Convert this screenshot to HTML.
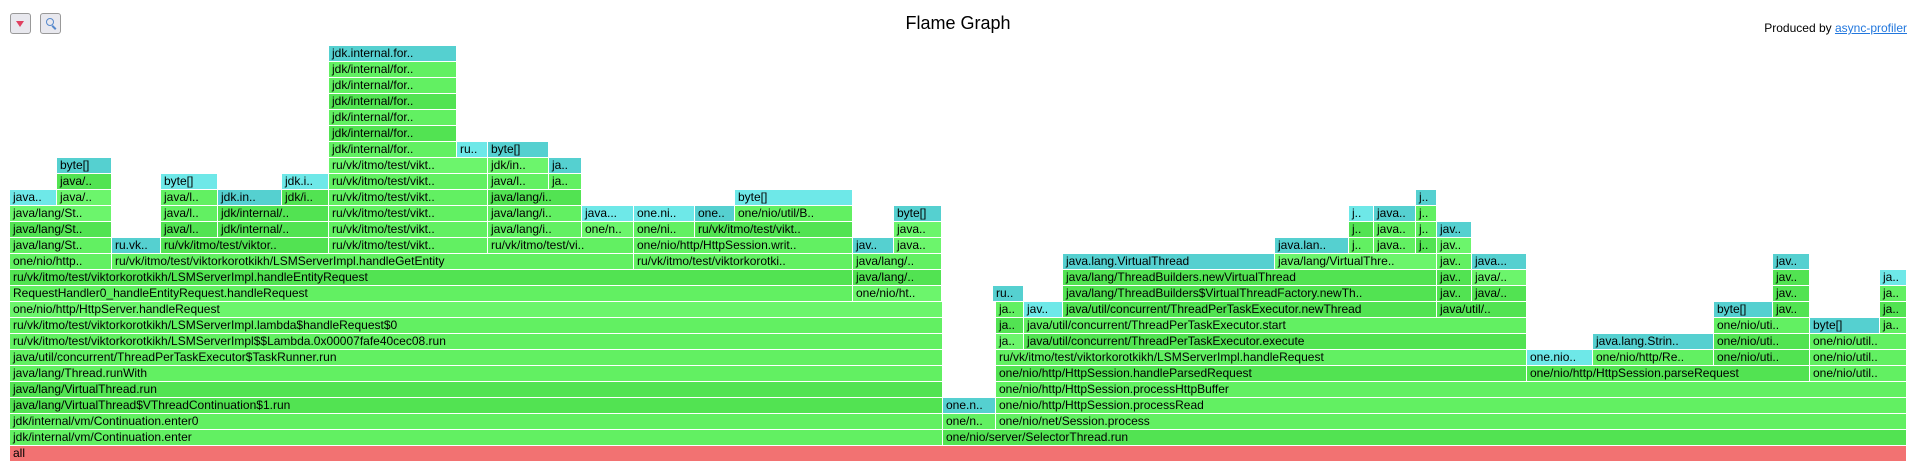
<!DOCTYPE html>
<html><head><meta charset="utf-8"><style>
body{margin:0;width:1916px;height:471px;background:#fff;position:relative;overflow:hidden;font-family:"Liberation Sans","DejaVu Sans",sans-serif;}
.f{position:absolute;height:15px;font-size:12px;line-height:15px;padding-left:3px;box-sizing:border-box;white-space:nowrap;overflow:hidden;color:#000;}
.a{background:#62f062}.b{background:#52e352}.c{background:#6cf56c}
.k{background:#55d0d0}.l{background:#6ee8e8}.r{background:#f27272}
.btn{position:absolute;top:13px;width:21px;height:21px;border:1px solid #999;border-radius:3px;background:#e8e8ee;box-sizing:border-box;}
</style></head><body>
<div class="btn" style="left:10px"><div style="position:absolute;left:5px;top:7px;width:0;height:0;border-left:4px solid transparent;border-right:4px solid transparent;border-top:6px solid #e04060"></div></div>
<div class="btn" style="left:40px"><div style="position:absolute;left:5px;top:4px;width:6px;height:6px;border:1.5px solid #5588cc;border-radius:50%"></div><div style="position:absolute;left:12px;top:11px;width:2px;height:5px;background:#5588cc;transform:rotate(-45deg)"></div></div>
<div style="position:absolute;left:0;width:1916px;top:13px;text-align:center;font-size:18px;">Flame Graph</div>
<div style="position:absolute;right:9px;top:21px;font-size:12px;">Produced by <span style="color:#2277dd;text-decoration:underline">async-profiler</span></div>

<!-- L0 -->
<div class="f r" style="left:10px;top:446px;width:1896px">all</div>
<!-- L1 -->
<div class="f a" style="left:10px;top:430px;width:932px">jdk/internal/vm/Continuation.enter</div>
<div class="f b" style="left:943px;top:430px;width:963px">one/nio/server/SelectorThread.run</div>
<!-- L2 -->
<div class="f a" style="left:10px;top:414px;width:932px">jdk/internal/vm/Continuation.enter0</div>
<div class="f a" style="left:943px;top:414px;width:52px">one/n..</div>
<div class="f a" style="left:996px;top:414px;width:910px">one/nio/net/Session.process</div>
<!-- L3 -->
<div class="f b" style="left:10px;top:398px;width:932px">java/lang/VirtualThread$VThreadContinuation$1.run</div>
<div class="f k" style="left:943px;top:398px;width:52px">one.n..</div>
<div class="f a" style="left:996px;top:398px;width:910px">one/nio/http/HttpSession.processRead</div>
<!-- L4 -->
<div class="f b" style="left:10px;top:382px;width:932px">java/lang/VirtualThread.run</div>
<div class="f a" style="left:996px;top:382px;width:910px">one/nio/http/HttpSession.processHttpBuffer</div>
<!-- L5 -->
<div class="f a" style="left:10px;top:366px;width:932px">java/lang/Thread.runWith</div>
<div class="f b" style="left:996px;top:366px;width:530px">one/nio/http/HttpSession.handleParsedRequest</div>
<div class="f b" style="left:1527px;top:366px;width:282px">one/nio/http/HttpSession.parseRequest</div>
<div class="f a" style="left:1810px;top:366px;width:96px">one/nio/util..</div>
<!-- L6 -->
<div class="f a" style="left:10px;top:350px;width:932px">java/util/concurrent/ThreadPerTaskExecutor$TaskRunner.run</div>
<div class="f a" style="left:996px;top:350px;width:530px">ru/vk/itmo/test/viktorkorotkikh/LSMServerImpl.handleRequest</div>
<div class="f l" style="left:1527px;top:350px;width:65px">one.nio..</div>
<div class="f a" style="left:1593px;top:350px;width:120px">one/nio/http/Re..</div>
<div class="f b" style="left:1714px;top:350px;width:95px">one/nio/uti..</div>
<div class="f a" style="left:1810px;top:350px;width:96px">one/nio/util..</div>
<!-- L7 -->
<div class="f a" style="left:10px;top:334px;width:932px">ru/vk/itmo/test/viktorkorotkikh/LSMServerImpl$$Lambda.0x00007fafe40cec08.run</div>
<div class="f c" style="left:996px;top:334px;width:27px">ja..</div>
<div class="f b" style="left:1024px;top:334px;width:502px">java/util/concurrent/ThreadPerTaskExecutor.execute</div>
<div class="f k" style="left:1593px;top:334px;width:120px">java.lang.Strin..</div>
<div class="f b" style="left:1714px;top:334px;width:95px">one/nio/uti..</div>
<div class="f a" style="left:1810px;top:334px;width:96px">one/nio/util..</div>
<!-- L8 -->
<div class="f a" style="left:10px;top:318px;width:932px">ru/vk/itmo/test/viktorkorotkikh/LSMServerImpl.lambda$handleRequest$0</div>
<div class="f b" style="left:996px;top:318px;width:27px">ja..</div>
<div class="f a" style="left:1024px;top:318px;width:502px">java/util/concurrent/ThreadPerTaskExecutor.start</div>
<div class="f a" style="left:1714px;top:318px;width:95px">one/nio/uti..</div>
<div class="f k" style="left:1810px;top:318px;width:69px">byte[]</div>
<div class="f a" style="left:1880px;top:318px;width:26px">ja..</div>
<!-- L9 -->
<div class="f c" style="left:10px;top:302px;width:932px">one/nio/http/HttpServer.handleRequest</div>
<div class="f a" style="left:996px;top:302px;width:27px">ja..</div>
<div class="f l" style="left:1024px;top:302px;width:38px">jav..</div>
<div class="f b" style="left:1063px;top:302px;width:373px">java/util/concurrent/ThreadPerTaskExecutor.newThread</div>
<div class="f b" style="left:1437px;top:302px;width:89px">java/util/..</div>
<div class="f k" style="left:1714px;top:302px;width:58px">byte[]</div>
<div class="f b" style="left:1773px;top:302px;width:36px">jav..</div>
<div class="f b" style="left:1880px;top:302px;width:26px">ja..</div>
<!-- L10 -->
<div class="f a" style="left:10px;top:286px;width:842px">RequestHandler0_handleEntityRequest.handleRequest</div>
<div class="f c" style="left:853px;top:286px;width:88px">one/nio/ht..</div>
<div class="f k" style="left:993px;top:286px;width:30px">ru..</div>
<div class="f b" style="left:1063px;top:286px;width:373px">java/lang/ThreadBuilders$VirtualThreadFactory.newTh..</div>
<div class="f b" style="left:1437px;top:286px;width:34px">jav..</div>
<div class="f b" style="left:1472px;top:286px;width:54px">java/..</div>
<div class="f b" style="left:1773px;top:286px;width:36px">jav..</div>
<div class="f a" style="left:1880px;top:286px;width:26px">ja..</div>
<!-- L11 -->
<div class="f b" style="left:10px;top:270px;width:842px">ru/vk/itmo/test/viktorkorotkikh/LSMServerImpl.handleEntityRequest</div>
<div class="f b" style="left:853px;top:270px;width:88px">java/lang/..</div>
<div class="f b" style="left:1063px;top:270px;width:373px">java/lang/ThreadBuilders.newVirtualThread</div>
<div class="f b" style="left:1437px;top:270px;width:34px">jav..</div>
<div class="f c" style="left:1472px;top:270px;width:54px">java/..</div>
<div class="f b" style="left:1773px;top:270px;width:36px">jav..</div>
<div class="f l" style="left:1880px;top:270px;width:26px">ja..</div>
<!-- L12 -->
<div class="f a" style="left:10px;top:254px;width:101px">one/nio/http..</div>
<div class="f a" style="left:112px;top:254px;width:521px">ru/vk/itmo/test/viktorkorotkikh/LSMServerImpl.handleGetEntity</div>
<div class="f a" style="left:634px;top:254px;width:218px">ru/vk/itmo/test/viktorkorotki..</div>
<div class="f a" style="left:853px;top:254px;width:88px">java/lang/..</div>
<div class="f k" style="left:1063px;top:254px;width:211px">java.lang.VirtualThread</div>
<div class="f c" style="left:1275px;top:254px;width:161px">java/lang/VirtualThre..</div>
<div class="f a" style="left:1437px;top:254px;width:34px">jav..</div>
<div class="f k" style="left:1472px;top:254px;width:54px">java...</div>
<div class="f k" style="left:1773px;top:254px;width:36px">jav..</div>
<!-- L13 -->
<div class="f a" style="left:10px;top:238px;width:101px">java/lang/St..</div>
<div class="f k" style="left:112px;top:238px;width:48px">ru.vk..</div>
<div class="f b" style="left:161px;top:238px;width:167px">ru/vk/itmo/test/viktor..</div>
<div class="f a" style="left:329px;top:238px;width:158px">ru/vk/itmo/test/vikt..</div>
<div class="f a" style="left:488px;top:238px;width:145px">ru/vk/itmo/test/vi..</div>
<div class="f a" style="left:634px;top:238px;width:218px">one/nio/http/HttpSession.writ..</div>
<div class="f k" style="left:853px;top:238px;width:40px">jav..</div>
<div class="f c" style="left:894px;top:238px;width:47px">java..</div>
<div class="f k" style="left:1275px;top:238px;width:73px">java.lan..</div>
<div class="f a" style="left:1349px;top:238px;width:24px">j..</div>
<div class="f a" style="left:1374px;top:238px;width:41px">java..</div>
<div class="f b" style="left:1416px;top:238px;width:20px">j..</div>
<div class="f c" style="left:1437px;top:238px;width:34px">jav..</div>
<!-- L14 -->
<div class="f b" style="left:10px;top:222px;width:101px">java/lang/St..</div>
<div class="f b" style="left:161px;top:222px;width:56px">java/l..</div>
<div class="f b" style="left:218px;top:222px;width:110px">jdk/internal/..</div>
<div class="f a" style="left:329px;top:222px;width:158px">ru/vk/itmo/test/vikt..</div>
<div class="f a" style="left:488px;top:222px;width:93px">java/lang/i..</div>
<div class="f c" style="left:582px;top:222px;width:51px">one/n..</div>
<div class="f a" style="left:634px;top:222px;width:60px">one/ni..</div>
<div class="f b" style="left:695px;top:222px;width:157px">ru/vk/itmo/test/vikt..</div>
<div class="f c" style="left:894px;top:222px;width:47px">java..</div>
<div class="f b" style="left:1349px;top:222px;width:24px">j..</div>
<div class="f a" style="left:1374px;top:222px;width:41px">java..</div>
<div class="f a" style="left:1416px;top:222px;width:20px">j..</div>
<div class="f k" style="left:1437px;top:222px;width:34px">jav..</div>
<!-- L15 -->
<div class="f c" style="left:10px;top:206px;width:101px">java/lang/St..</div>
<div class="f a" style="left:161px;top:206px;width:56px">java/l..</div>
<div class="f b" style="left:218px;top:206px;width:110px">jdk/internal/..</div>
<div class="f a" style="left:329px;top:206px;width:158px">ru/vk/itmo/test/vikt..</div>
<div class="f a" style="left:488px;top:206px;width:93px">java/lang/i..</div>
<div class="f l" style="left:582px;top:206px;width:51px">java...</div>
<div class="f l" style="left:634px;top:206px;width:60px">one.ni..</div>
<div class="f k" style="left:695px;top:206px;width:39px">one..</div>
<div class="f a" style="left:735px;top:206px;width:117px">one/nio/util/B..</div>
<div class="f k" style="left:894px;top:206px;width:47px">byte[]</div>
<div class="f l" style="left:1349px;top:206px;width:24px">j..</div>
<div class="f k" style="left:1374px;top:206px;width:41px">java..</div>
<div class="f a" style="left:1416px;top:206px;width:20px">j..</div>
<!-- L16 -->
<div class="f l" style="left:10px;top:190px;width:46px">java..</div>
<div class="f c" style="left:57px;top:190px;width:54px">java/..</div>
<div class="f a" style="left:161px;top:190px;width:56px">java/l..</div>
<div class="f k" style="left:218px;top:190px;width:63px">jdk.in..</div>
<div class="f b" style="left:282px;top:190px;width:46px">jdk/i..</div>
<div class="f a" style="left:329px;top:190px;width:158px">ru/vk/itmo/test/vikt..</div>
<div class="f b" style="left:488px;top:190px;width:93px">java/lang/i..</div>
<div class="f l" style="left:735px;top:190px;width:117px">byte[]</div>
<div class="f k" style="left:1416px;top:190px;width:20px">j..</div>
<!-- L17 -->
<div class="f b" style="left:57px;top:174px;width:54px">java/..</div>
<div class="f l" style="left:161px;top:174px;width:56px">byte[]</div>
<div class="f l" style="left:282px;top:174px;width:46px">jdk.i..</div>
<div class="f a" style="left:329px;top:174px;width:158px">ru/vk/itmo/test/vikt..</div>
<div class="f a" style="left:488px;top:174px;width:60px">java/l..</div>
<div class="f a" style="left:549px;top:174px;width:32px">ja..</div>
<!-- L18 -->
<div class="f k" style="left:57px;top:158px;width:54px">byte[]</div>
<div class="f c" style="left:329px;top:158px;width:158px">ru/vk/itmo/test/vikt..</div>
<div class="f c" style="left:488px;top:158px;width:60px">jdk/in..</div>
<div class="f k" style="left:549px;top:158px;width:32px">ja..</div>
<!-- L19-25 -->
<div class="f a" style="left:329px;top:142px;width:127px">jdk/internal/for..</div>
<div class="f l" style="left:457px;top:142px;width:30px">ru..</div>
<div class="f k" style="left:488px;top:142px;width:60px">byte[]</div>
<div class="f b" style="left:329px;top:126px;width:127px">jdk/internal/for..</div>
<div class="f a" style="left:329px;top:110px;width:127px">jdk/internal/for..</div>
<div class="f b" style="left:329px;top:94px;width:127px">jdk/internal/for..</div>
<div class="f a" style="left:329px;top:78px;width:127px">jdk/internal/for..</div>
<div class="f a" style="left:329px;top:62px;width:127px">jdk/internal/for..</div>
<div class="f k" style="left:329px;top:46px;width:127px">jdk.internal.for..</div>
</body></html>
